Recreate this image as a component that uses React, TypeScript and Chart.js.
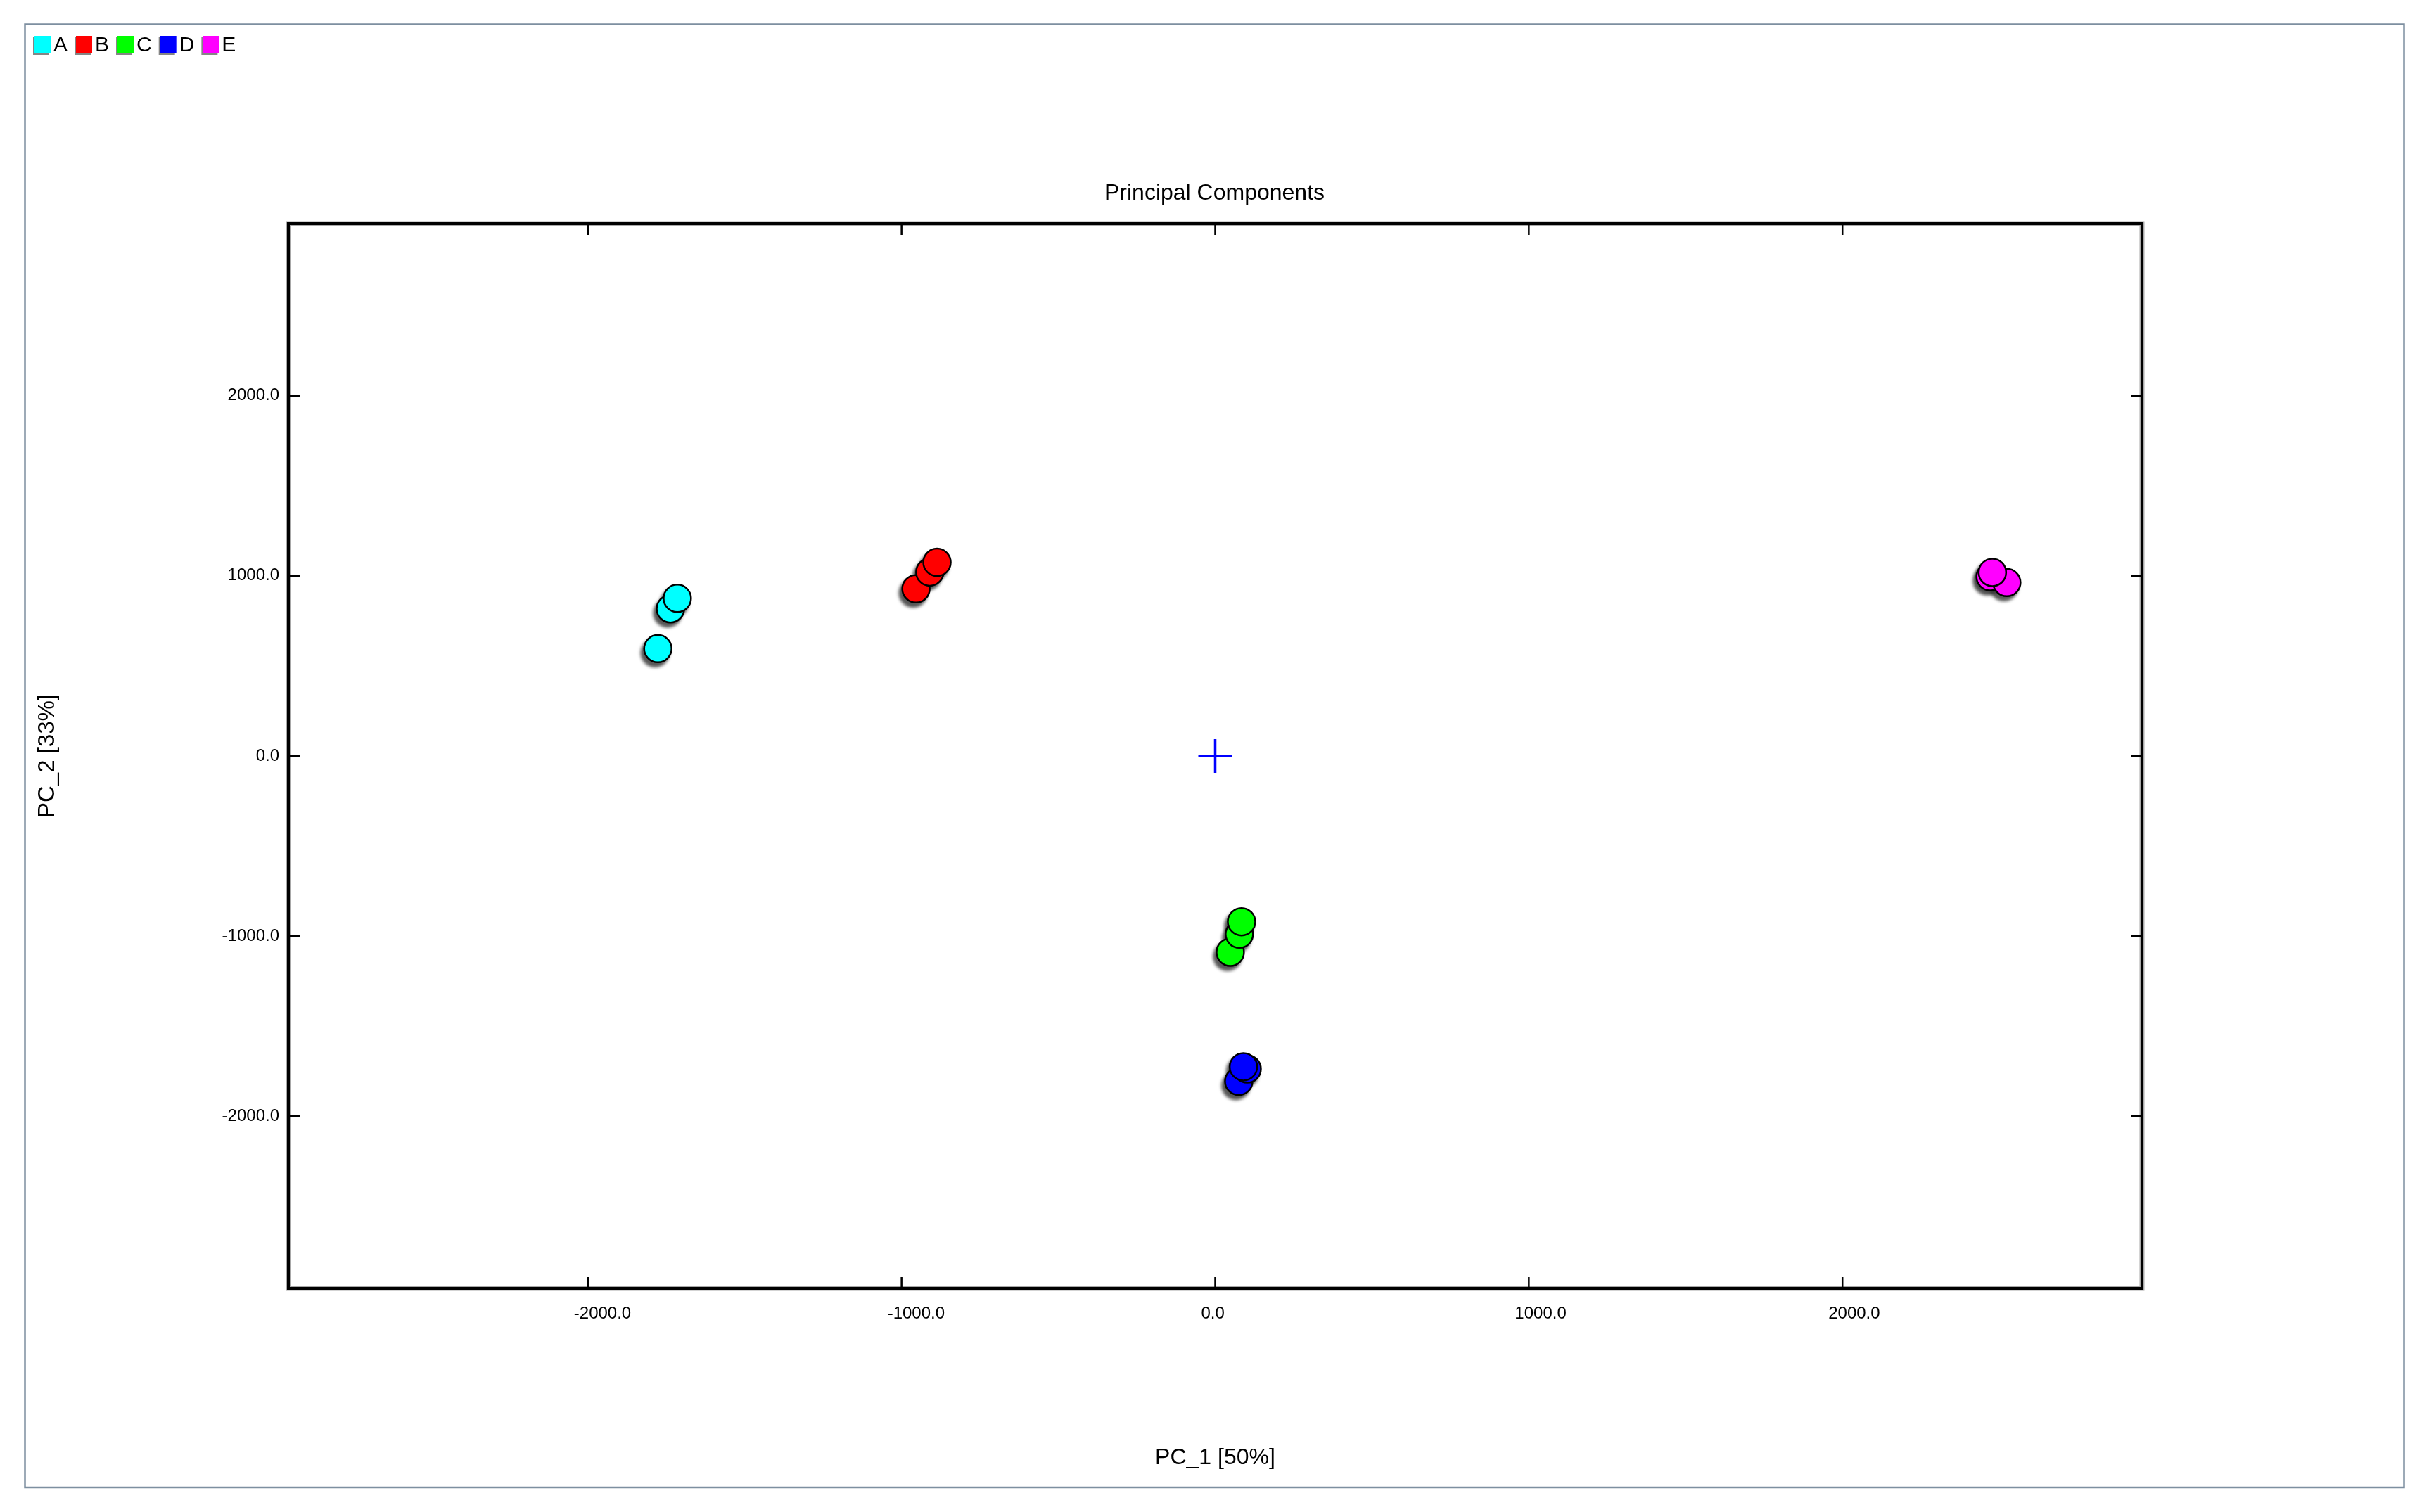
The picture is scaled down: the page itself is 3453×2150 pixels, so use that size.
import React, { useEffect, useRef } from 'react';
import { Chart, registerables } from 'chart.js';

Chart.register(...registerables);

const FONT = "'Liberation Sans', Arial, sans-serif";

// ---- data ----
const seriesNames = ['A', 'B', 'C', 'D', 'E'];
const seriesColors = ['#00ffff', '#ff0000', '#00ff00', '#0000ff', '#ff00ff'];
const aX = [-1777, -1737, -1715];
const aY = [596, 817, 875];
const bX = [-954, -910, -887];
const bY = [928, 1021, 1075];
const cX = [48, 77, 84];
const cY = [-1089, -989, -920];
const dX = [75, 102, 90];
const dY = [-1806, -1737, -1725];
const eX = [2471, 2524, 2478];
const eY = [995, 963, 1019];
const centroidX = [0];
const centroidY = [0];
const xTickValues = [-2000, -1000, 0, 1000, 2000];
const yTickValues = [-2000, -1000, 0, 1000, 2000];
const axisMin = -2955;
const axisMax = 2955;
const chartTitle = 'Principal Components';
const xTitle = 'PC_1 [50%]';
const yTitle = 'PC_2 [33%]';

const bgPlugin = {
  id: 'bgFrame',
  beforeDraw(chart: any) {
    const ctx = chart.ctx;
    ctx.save();
    ctx.fillStyle = '#ffffff';
    ctx.fillRect(0, 0, chart.width, chart.height);
    ctx.strokeStyle = '#7d8fa0';
    ctx.lineWidth = 2.5;
    ctx.strokeRect(35.5, 34.5, 3417.5 - 35.5, 2115 - 34.5);
    ctx.restore();
  },
};

// compact legend in the top-left corner (box, then label right next to it)
const legendPlugin = {
  id: 'compactLegend',
  afterDraw(chart: any) {
    const ctx = chart.ctx;
    ctx.save();
    ctx.font = `30px ${FONT}`;
    ctx.textBaseline = 'middle';
    ctx.textAlign = 'left';
    let x = 49;
    const top = 51;
    const bw = 23;
    const bh = 25;
    chart.data.datasets.forEach((ds: any) => {
      if (ds.label === 'centroid') return;
      ctx.fillStyle = 'rgba(120,120,120,0.9)';
      ctx.fillRect(x - 2, top + 2, bw, bh);
      ctx.fillStyle = ds.backgroundColor;
      ctx.fillRect(x, top, bw, bh);
      ctx.fillStyle = '#000';
      const tx = x + bw + 4;
      ctx.fillText(ds.label, tx, top + bh / 2 + 1);
      x = tx + ctx.measureText(ds.label).width + 12;
    });
    ctx.restore();
  },
};

const shadowPlugin = {
  id: 'ptShadow',
  beforeDatasetsDraw(chart: any) {
    const ctx = chart.ctx;
    ctx.save();
    ctx.filter = 'blur(2px)';
    ctx.fillStyle = 'rgba(45,45,45,0.8)';
    chart.data.datasets.forEach((ds: any, i: number) => {
      if (ds.label === 'centroid') return;
      const meta = chart.getDatasetMeta(i);
      meta.data.forEach((el: any) => {
        const r = el.options.radius + el.options.borderWidth / 2;
        ctx.beginPath();
        ctx.arc(el.x - 4, el.y + 6, r, 0, Math.PI * 2);
        ctx.fill();
      });
    });
    ctx.restore();
  },
};

const framePlugin = {
  id: 'plotFrame',
  afterDatasetsDraw(chart: any) {
    const { ctx, chartArea } = chart;
    const { left, top, right, bottom } = chartArea;
    const xs = chart.scales.x;
    const ys = chart.scales.y;
    ctx.save();
    ctx.strokeStyle = 'rgba(110,110,110,0.6)';
    ctx.lineWidth = 7;
    ctx.strokeRect(left, top, right - left, bottom - top);
    ctx.strokeStyle = '#000';
    ctx.lineWidth = 4;
    ctx.strokeRect(left, top, right - left, bottom - top);
    ctx.lineWidth = 2.5;
    ctx.beginPath();
    xs.ticks.forEach((t: any) => {
      const px = xs.getPixelForValue(t.value);
      ctx.moveTo(px, top);
      ctx.lineTo(px, top + 16);
      ctx.moveTo(px, bottom);
      ctx.lineTo(px, bottom - 16);
    });
    ys.ticks.forEach((t: any) => {
      const py = ys.getPixelForValue(t.value);
      ctx.moveTo(left, py);
      ctx.lineTo(left + 16, py);
      ctx.moveTo(right, py);
      ctx.lineTo(right - 16, py);
    });
    ctx.stroke();
    ctx.restore();
  },
};

export default function App() {
  const ref = useRef<HTMLCanvasElement>(null);
  useEffect(() => {
    if (!ref.current) return;
    Chart.defaults.font.family = FONT;
    Chart.defaults.color = '#000';
    const seriesX = [aX, bX, cX, dX, eX];
    const seriesY = [aY, bY, cY, dY, eY];
    const datasets: any[] = seriesNames.map((name, s) => ({
      label: name,
      data: seriesX[s].map((x, i) => ({ x, y: seriesY[s][i] })),
      backgroundColor: seriesColors[s],
      borderColor: '#000',
      pointRadius: 19.5,
      pointBorderWidth: 2.5,
      pointHoverRadius: 19.5,
    }));
    datasets.push({
      label: 'centroid',
      data: centroidX.map((x, i) => ({ x, y: centroidY[i] })),
      pointStyle: 'cross',
      pointRadius: 24,
      pointBorderWidth: 3.5,
      borderColor: '#0000ff',
      backgroundColor: '#0000ff',
    });
    const tickFmt = (v: any) => Number(v).toFixed(1);
    const chart = new Chart(ref.current, {
      type: 'scatter',
      data: { datasets },
      options: {
        responsive: false,
        maintainAspectRatio: false,
        devicePixelRatio: 1,
        animation: false,
        events: [],
        layout: { padding: { left: 47, right: 47, top: 47, bottom: 0 } },
        plugins: {
          tooltip: { enabled: false },
          legend: { display: false },
          title: {
            display: true,
            text: chartTitle,
            color: '#000',
            font: { family: FONT, size: 32, weight: 'normal' },
            padding: { top: 208.8, bottom: 23.8 },
          },
        },
        scales: {
          x: {
            type: 'linear',
            position: 'bottom',
            min: axisMin,
            max: axisMax,
            afterBuildTicks: (s: any) => {
              s.ticks = xTickValues.map((v) => ({ value: v }));
            },
            afterFit: (s: any) => {
              s.height = 318;
            },
            ticks: {
              callback: tickFmt,
              align: 'start',
              labelOffset: -20,
              padding: 22,
              autoSkip: false,
              maxRotation: 0,
              color: '#000',
              font: { family: FONT, size: 24 },
            },
            grid: { display: false, drawTicks: false },
            border: { display: false },
            title: {
              display: true,
              text: xTitle,
              color: '#000',
              font: { family: FONT, size: 32 },
              padding: { top: 0, bottom: 58 },
            },
          },
          y: {
            type: 'linear',
            position: 'left',
            min: axisMin,
            max: axisMax,
            afterBuildTicks: (s: any) => {
              s.ticks = yTickValues.map((v) => ({ value: v }));
            },
            afterFit: (s: any) => {
              s.width = 363;
            },
            ticks: {
              callback: tickFmt,
              padding: 13,
              autoSkip: false,
              color: '#000',
              font: { family: FONT, size: 24 },
            },
            grid: { display: false, drawTicks: false },
            border: { display: false },
            title: {
              display: true,
              text: yTitle,
              color: '#000',
              font: { family: FONT, size: 33 },
              padding: { top: 1, bottom: 0 },
            },
          },
          y2: {
            type: 'linear',
            position: 'right',
            axis: 'y',
            display: true,
            min: axisMin,
            max: axisMax,
            afterFit: (s: any) => {
              s.width = 361;
            },
            ticks: { display: false },
            grid: { display: false, drawTicks: false },
            border: { display: false },
          },
        },
      } as any,
      plugins: [bgPlugin, shadowPlugin, framePlugin, legendPlugin],
    });
    return () => chart.destroy();
  }, []);
  return (
    <div style={{ position: 'fixed', left: 0, top: 0, width: 3453, height: 2150, background: '#fff' }}>
      <canvas ref={ref} width={3453} height={2150} style={{ display: 'block', width: 3453, height: 2150 }} />
    </div>
  );
}
